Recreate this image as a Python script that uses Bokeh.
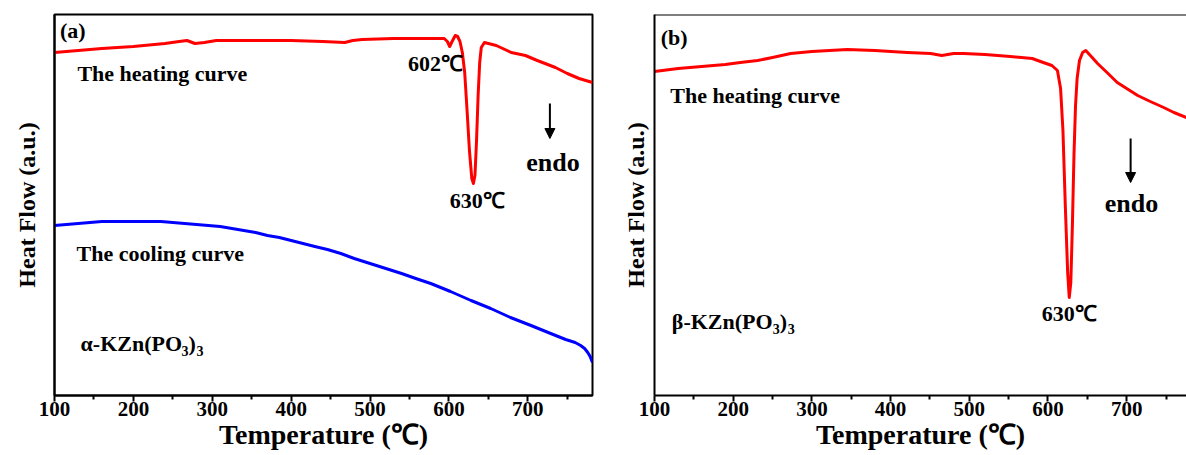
from bokeh.plotting import figure
from bokeh.layouts import row
from bokeh.models import Range1d, FixedTicker, Label, Arrow, NormalHead, Span
from bokeh.embed import file_html
from bokeh.resources import INLINE

# ---------------- data (Heat flow in arbitrary units) ----------------
a_heat_T = [100, 130, 160, 200, 240, 258, 268, 278, 290, 305, 350, 400, 440, 468, 478, 490,
            530, 570, 594, 598, 601, 604, 608, 611, 614, 617, 620, 623, 626, 629, 631, 633,
            635, 637, 639, 641, 645, 660, 679, 697, 712, 735, 750, 765, 782]
a_heat_py = [52, 50, 48, 46, 43, 41, 40, 43, 42, 40, 40, 40, 41, 42, 40, 39,
             38, 38, 38, 41, 46, 41, 35, 36, 41, 52, 72, 110, 150, 178, 183, 175,
             140, 95, 62, 47, 42, 45, 52, 55, 60, 67, 73, 78, 82]
a_heat = [395 - v for v in a_heat_py]

a_cool_T = [100, 115, 130, 145, 160, 175, 190, 205, 220, 235, 250, 265, 280, 295, 310, 325,
            340, 355, 370, 385, 400, 415, 430, 446, 463, 480, 500, 520, 540, 558, 577, 602,
            628, 653, 678, 704, 729, 748, 760, 767, 772, 776, 779, 782]
a_cool_py = [225, 224, 223, 222, 221, 221, 221, 221, 221, 221, 222, 223, 224, 225, 226, 228,
             230, 232, 235, 237, 240, 243, 246, 249, 253, 258, 263, 268, 273, 278, 283, 291,
             300, 308, 317, 325, 333, 339, 342, 345, 348, 352, 356, 362]
a_cool = [395 - v for v in a_cool_py]

b_heat_T = [100, 130, 160, 190, 209, 231, 250, 273, 300, 345, 380, 421, 451, 465, 480, 493,
            520, 552, 580, 594, 605, 612, 616, 619, 622, 625, 627, 629, 631, 633, 635, 637,
            640, 644, 648, 655, 663, 675, 688, 700, 714, 730, 747, 760, 776]
b_heat_py = [71, 68, 66, 64, 62, 60, 57, 53, 51, 49, 50, 52, 53, 55, 53, 53,
             54, 56, 58, 62, 65, 70, 88, 130, 205, 272, 297, 282, 225, 155, 105, 78,
             60, 52, 50, 56, 63, 72, 82, 88, 95, 101, 107, 112, 117]
b_heat = [395 - v for v in b_heat_py]

x_ticks = [100, 200, 300, 400, 500, 600, 700]
x_minor = [150, 250, 350, 450, 550, 650, 750]

FONT = "Liberation Serif"


def make_fig(width, x_end, border_left, border_right, ylab_standoff):
    p = figure(width=width, height=455, output_backend="svg", toolbar_location=None,
               x_range=Range1d(100, x_end), y_range=Range1d(0, 381),
               min_border_left=border_left, min_border_right=border_right,
               min_border_top=14, min_border_bottom=60)
    p.grid.visible = False
    p.outline_line_color = "black"
    p.outline_line_width = 2
    p.outline_line_alpha = 1
    xa = p.xaxis[0]
    xa.ticker = FixedTicker(ticks=x_ticks, minor_ticks=x_minor)
    xa.axis_label = "Temperature (℃)"
    xa.axis_label_text_font = FONT
    xa.axis_label_text_font_style = "bold"
    xa.axis_label_text_font_size = "28px"
    xa.axis_label_text_color = "black"
    xa.axis_label_standoff = 0
    xa.major_label_text_font = FONT
    xa.major_label_text_font_style = "bold"
    xa.major_label_text_font_size = "21px"
    xa.major_label_text_color = "black"
    xa.major_label_standoff = 0
    xa.axis_line_width = 2
    xa.major_tick_line_width = 2
    xa.minor_tick_line_width = 2
    xa.major_tick_in = 0
    xa.major_tick_out = 6
    xa.minor_tick_in = 0
    xa.minor_tick_out = 4
    ya = p.yaxis[0]
    ya.ticker = FixedTicker(ticks=[])
    ya.axis_label = "Heat Flow (a.u.)"
    ya.axis_label_text_font = FONT
    ya.axis_label_text_font_style = "bold"
    ya.axis_label_text_font_size = "24px"
    ya.axis_label_text_color = "black"
    ya.axis_label_standoff = ylab_standoff
    ya.axis_line_width = 2
    ya.major_tick_in = 0
    ya.major_tick_out = 0
    ya.minor_tick_in = 0
    ya.minor_tick_out = 0
    return p


def add_text(p, x, y, text, size, align="left", baseline="middle", bold=True, x_off=0, y_off=0):
    p.add_layout(Label(x=x, y=y, text=text, text_font=FONT,
                       text_font_style="bold" if bold else "normal",
                       text_font_size=size, text_align=align, text_baseline=baseline,
                       text_color="black", x_offset=x_off, y_offset=y_off))


def add_formula(p, x, y, prefix):
    add_text(p, x, y, prefix + "-KZn(PO", "22px")
    add_text(p, x, y, "3", "14px", x_off=101, y_off=-7)
    add_text(p, x, y, ")", "22px", x_off=108)
    add_text(p, x, y, "3", "14px", x_off=116, y_off=-7)


# ---------------- panel (a) ----------------
p1 = make_fig(600, 782, 54, 8, 15)
p1.line(a_heat_T, a_heat, line_color="#ff0000", line_width=3, line_join="round")
p1.line(a_cool_T, a_cool, line_color="#0000ff", line_width=3, line_join="round")
add_text(p1, 107, 365, "(a)", "22px")
add_text(p1, 129, 322, "The heating curve", "22px")
add_text(p1, 583, 332, "602℃", "22px", align="center")
add_text(p1, 636, 195, "630℃", "22px", align="center")
add_text(p1, 732, 233, "endo", "26px", align="center")
p1.add_layout(Arrow(x_start=728, y_start=292, x_end=728, y_end=257, line_width=2,
                    end=NormalHead(size=10, fill_color="black", line_color="black")))
add_text(p1, 128, 142, "The cooling curve", "22px")
add_formula(p1, 133, 52, "α")

# ---------------- panel (b) ----------------
p2 = make_fig(586, 776, 54, 0, 6)
p2.outline_line_color = None
p2.add_layout(Span(location=381, dimension="width", line_color="black", line_width=2))
p2.line(b_heat_T, b_heat, line_color="#ff0000", line_width=3, line_join="round")
add_text(p2, 108, 358, "(b)", "22px")
add_text(p2, 120, 300, "The heating curve", "22px")
add_text(p2, 627, 82, "630℃", "22px", align="center")
add_text(p2, 706, 192, "endo", "26px", align="center")
p2.add_layout(Arrow(x_start=705, y_start=257, x_end=705, y_end=213, line_width=2,
                    end=NormalHead(size=10, fill_color="black", line_color="black")))
add_formula(p2, 122, 74, "β")

layout = row(p1, p2)
open("out.html", "w").write(file_html(layout, INLINE))
